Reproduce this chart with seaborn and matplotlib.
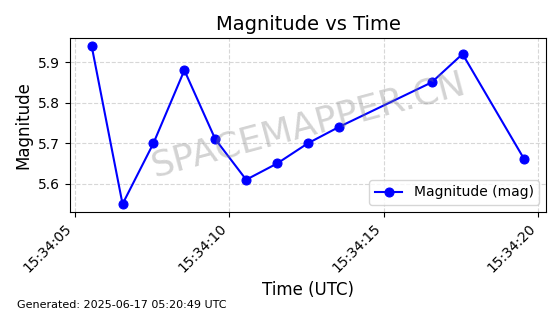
import matplotlib
matplotlib.use("Agg")
import matplotlib.pyplot as plt
import matplotlib.dates as mdates
import seaborn as sns
import pandas as pd

times = ["2025-06-17 15:34:05.55", "2025-06-17 15:34:06.55", "2025-06-17 15:34:07.55",
         "2025-06-17 15:34:08.55", "2025-06-17 15:34:09.55", "2025-06-17 15:34:10.55",
         "2025-06-17 15:34:11.55", "2025-06-17 15:34:12.55", "2025-06-17 15:34:13.55",
         "2025-06-17 15:34:16.55", "2025-06-17 15:34:17.55", "2025-06-17 15:34:19.55"]
magnitudes = [5.94, 5.55, 5.70, 5.88, 5.71, 5.61, 5.65, 5.70, 5.74, 5.85, 5.92, 5.66]

df = pd.DataFrame({"time": pd.to_datetime(times), "mag": magnitudes})

fig = plt.figure(figsize=(5.6, 3.14), dpi=100)
ax = fig.add_subplot(111)
fig.subplots_adjust(left=0.125, right=0.975, top=0.879, bottom=0.325)

sns.lineplot(data=df, x="time", y="mag", ax=ax, color="blue", marker="o",
             markersize=6.5, markeredgecolor="blue", linewidth=1.5,
             label="Magnitude (mag)")

ax.xaxis.set_major_locator(mdates.SecondLocator(bysecond=[0, 5, 10, 15, 20, 25, 30, 35, 40, 45, 50, 55]))
ax.xaxis.set_major_formatter(mdates.DateFormatter("%H:%M:%S"))
plt.setp(ax.get_xticklabels(), rotation=45, ha="right")

ax.grid(True, linestyle="--", color="lightgray", alpha=0.9, linewidth=0.8)
ax.set_title("Magnitude vs Time", fontsize=14)
ax.set_xlabel("Time (UTC)", fontsize=12)
ax.set_ylabel("Magnitude", fontsize=12)
ax.legend(loc="lower right", fontsize=10)

ax.text(0.5, 0.5, "SPACEMAPPER.CN", transform=ax.transAxes, fontsize=26,
        color="gray", alpha=0.35, rotation=15, ha="center", va="center")

fig.text(0.03, 0.02, "Generated: 2025-06-17 05:20:49 UTC", fontsize=8)

fig.savefig("out.png", dpi=100)
